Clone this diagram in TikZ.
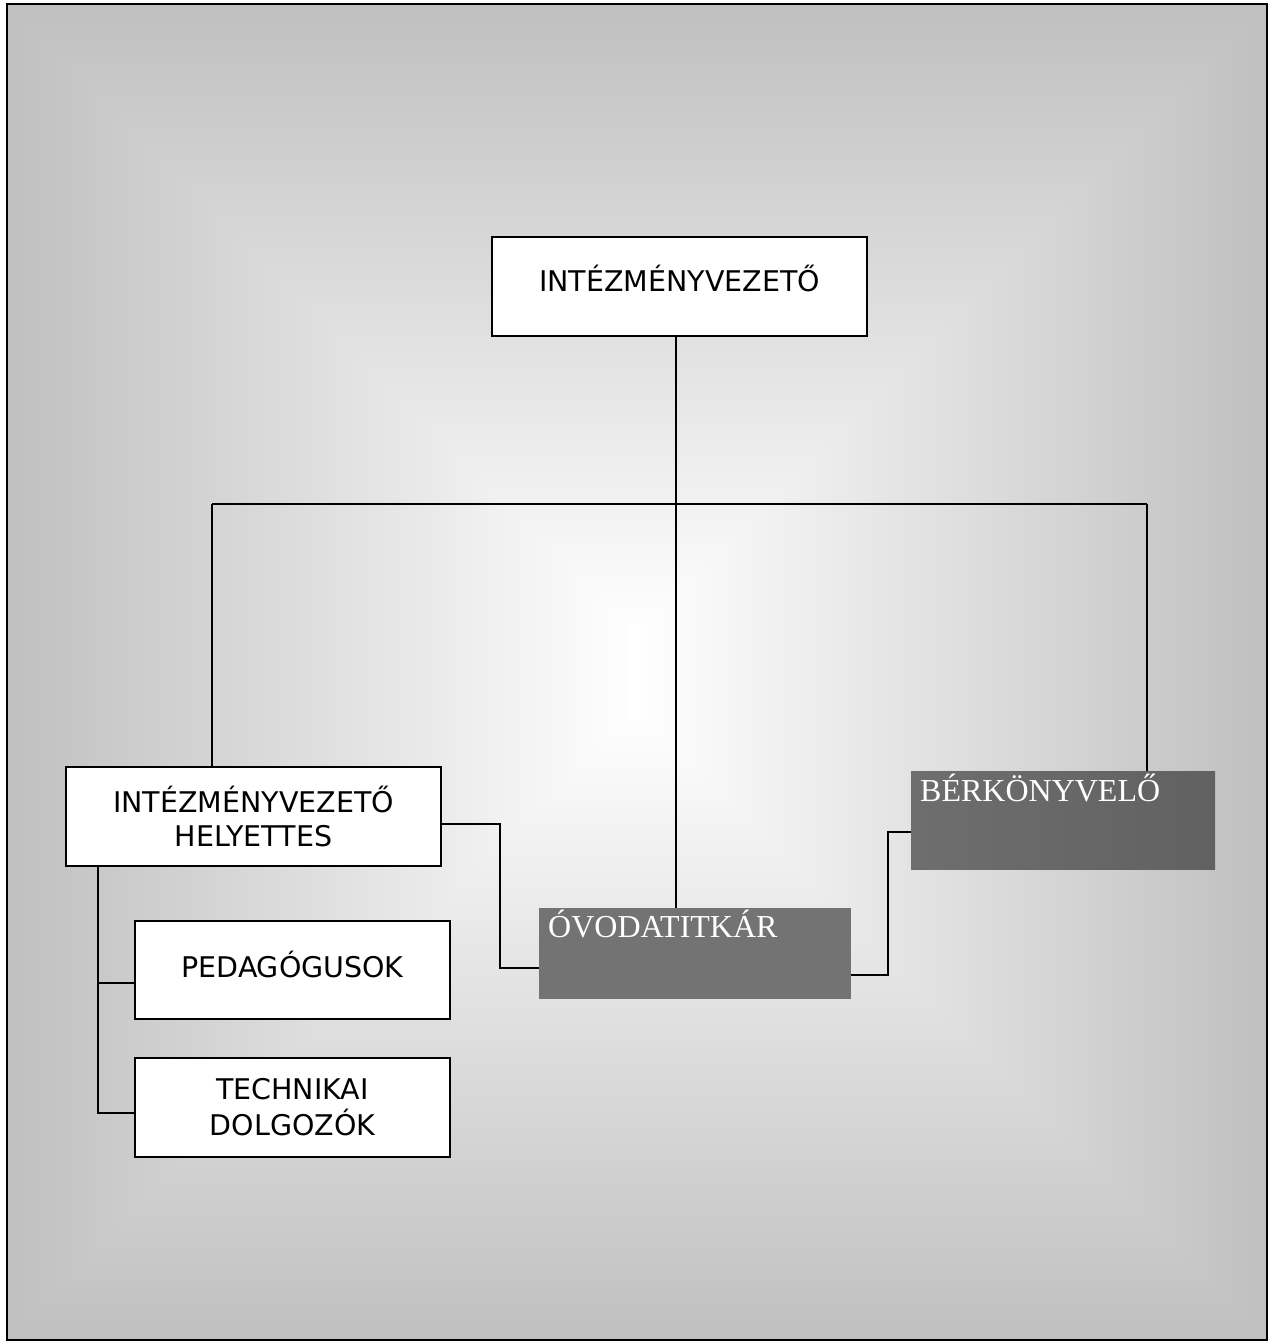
\documentclass[tikz,border=0pt]{standalone}
\usepackage{fontspec}
\setmainfont{Liberation Serif}
\newfontfamily\dvsans{DejaVu Sans}
\usetikzlibrary{calc}
\definecolor{darkfill}{RGB}{115,115,115}
\definecolor{bkleft}{RGB}{110,110,110}
\definecolor{bkright}{RGB}{97,97,97}
\tikzset{
  whitebox/.style={draw=black, line width=2pt, fill=white, inner sep=0pt, outer sep=0pt,
    font=\dvsans\fontsize{28.5}{34}\selectfont, align=center},
  darkbox/.style={inner sep=0pt, outer sep=0pt},
  darklabel/.style={text=white, font=\fontsize{32}{36}\selectfont, inner sep=0pt, anchor=base west},
  conn/.style={draw=black, line width=2pt}
}
\begin{document}
\begin{tikzpicture}[x=1pt,y=-1pt]
\useasboundingbox (0,0) rectangle (1271,1341);
% background rectangular gradient
\foreach \i in {0,...,62}{
  \pgfmathtruncatemacro{\v}{192+\i*63/62}
  \definecolor{bgc}{RGB}{\v,\v,\v}
  \fill[bgc] (7+10*\i,4+10*\i) rectangle (1267-10*\i,1340-10*\i);
}
\draw[line width=2pt] (7,4) rectangle (1267,1340);

% nodes
\node[whitebox, minimum width=375pt, minimum height=99pt, text height=26pt, text depth=17pt] (top) at (679.5,286.5) {INTÉZMÉNYVEZETŐ};
\node[whitebox, minimum width=375pt, minimum height=99pt] (hel) at (253.5,816) {INTÉZMÉNYVEZETŐ\\HELYETTES};
\node[whitebox, minimum width=315pt, minimum height=98pt, text height=26pt, text depth=12pt] (ped) at (292.5,970) {PEDAGÓGUSOK};
\node[whitebox, minimum width=315pt, minimum height=99pt, font=\dvsans\fontsize{28.5}{36}\selectfont] (tech) at (292.5,1107.5) {TECHNIKAI\\DOLGOZÓK};
\node[darkbox, fill=darkfill, minimum width=312pt, minimum height=91pt] (ov) at (695,953.5) {};
\node[darkbox, left color=bkleft, right color=bkright, minimum width=304pt, minimum height=98pt] (bk) at (1063,820) {};
\node[darklabel] (ovt) at (548,937) {ÓVODATITKÁR};
\node[darklabel] (bkt) at (920,801) {BÉRKÖNYVELŐ};

% connectors
\coordinate (busL) at (212,504);
\coordinate (busR) at (1147,504);
\draw[conn] ([xshift=-3.5pt]top.south) -- ([xshift=-3.5pt]top.south |- ov.north);
\draw[conn] (busL) -- (busR);
\draw[conn] (busL) -- (busL |- hel.north);
\draw[conn] (busR) -- (busR |- bk.north);
\draw[conn] ([yshift=-8pt]hel.east) -- ++(59,0) |- ([yshift=-14.5pt]ov.west);
\draw[conn] ([yshift=-21.5pt]ov.east) -- ++(37,0) |- ([yshift=-12pt]bk.west);
\coordinate (lt) at (98,866);
\coordinate (pw) at ([yshift=-13pt]ped.west);
\coordinate (tw) at ([yshift=-5.5pt]tech.west);
\draw[conn] (lt) -- (lt |- tw) -- (tw);
\draw[conn] (lt |- pw) -- (pw);
\end{tikzpicture}
\end{document}
